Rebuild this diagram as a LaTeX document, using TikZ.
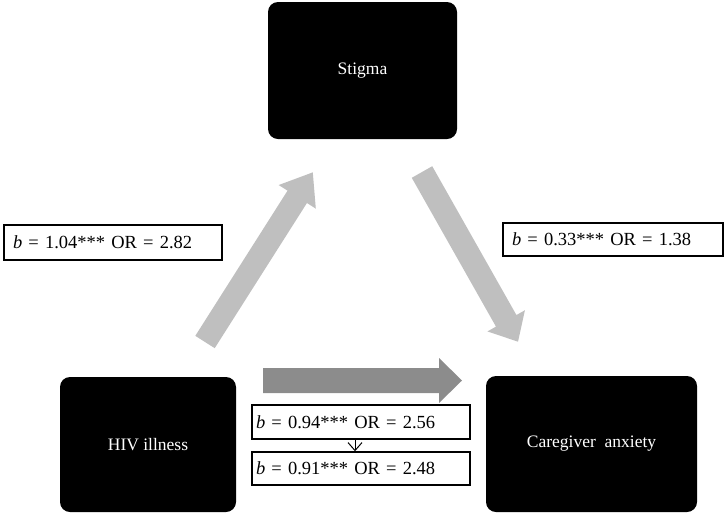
\documentclass[tikz,border=0pt]{standalone}
\usepackage{fontspec}
\setmainfont{Liberation Serif}
\newfontfamily\lblfamily[WordSpace=0.6,ItalicFont=Liberation Serif Italic]{Liberation Serif}
\usetikzlibrary{arrows.meta,calc}
\definecolor{lightarr}{HTML}{BFBFBF}
\definecolor{darkarr}{HTML}{8C8C8C}
\newcommand{\fatarrow}[8]{%
  \begin{scope}[shift={(#1,#2)},rotate=#3]
    \fill[#8] (0,-#5/2) -- (#4-#7,-#5/2) -- (#4-#7,-#6/2) -- (#4,0) -- (#4-#7,#6/2) -- (#4-#7,#5/2) -- (0,#5/2) -- cycle;
  \end{scope}}
\begin{document}
\begin{tikzpicture}[x=1pt,y=-1pt,
  blackbox/.style={fill=black,rounded corners=10pt,text=white,inner sep=0pt,
    font=\fontsize{17.5}{21}\selectfont},
  labelbox/.style={draw=black,line width=1.4pt,fill=white,inner ysep=0pt,
    align=left,font=\lblfamily\fontsize{18.5}{22}\selectfont}]
\useasboundingbox (0,0) rectangle (725,515);
% main nodes
\node[blackbox,minimum width=189pt,minimum height=137pt] (stigma) at (362.5,70.5) {Stigma};
\node[blackbox,minimum width=176pt,minimum height=135pt] (hiv) at (148,444.5) {HIV illness};
\node[blackbox,minimum width=211pt,minimum height=136pt] (care) at (591.5,444) {Caregiver\ \ anxiety};
% fat arrows
\fatarrow{205}{342}{57.57}{201}{23}{44}{29}{lightarr}
\fatarrow{422}{172}{-60.5}{195}{23.5}{43}{24}{lightarr}
\fatarrow{263}{380.5}{0}{199}{25}{45}{23}{darkarr}
% labels
\node[labelbox,inner xsep=9pt,text width=200pt,minimum height=35pt] (l1) at (113,242.5) {\textit{b} = 1.04*** OR = 2.82};
\node[labelbox,inner xsep=9pt,text width=202pt,minimum height=33pt] (l2) at (613,239.5) {\textit{b} = 0.33*** OR = 1.38};
\node[labelbox,inner xsep=4pt,text width=210pt,minimum height=34pt] (l3) at (361,422) {\textit{b} = 0.94*** OR = 2.56};
\node[labelbox,inner xsep=4pt,text width=210pt,minimum height=33pt] (l4) at (361,468.5) {\textit{b} = 0.91*** OR = 2.48};
\draw[line width=1pt,-{Straight Barb[length=8pt,width=14pt]}] ([xshift=-6pt]l3.south) -- ([xshift=-6pt]l4.north);
\end{tikzpicture}
\end{document}
